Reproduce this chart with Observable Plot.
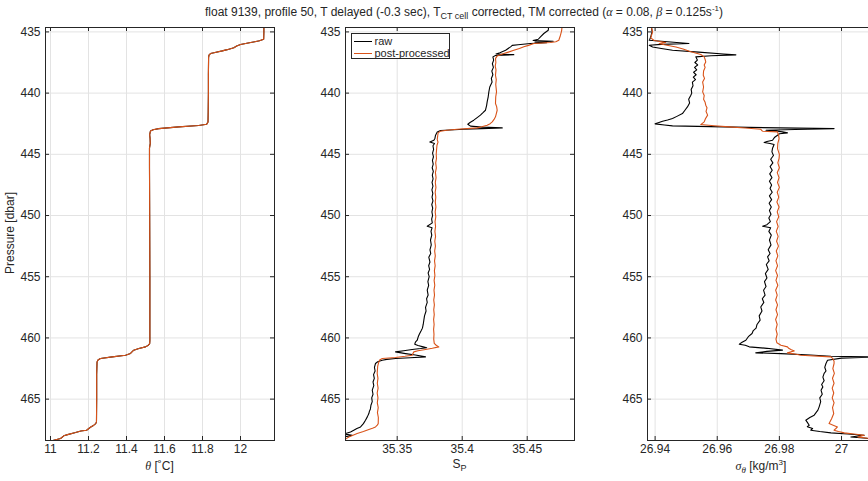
<!DOCTYPE html>
<html>
<head>
<meta charset="utf-8">
<script src="https://cdn.jsdelivr.net/npm/d3@7"></script>
<script src="https://cdn.jsdelivr.net/npm/@observablehq/plot@0.6"></script>
<style>
  html, body { margin: 0; padding: 0; background: #fff; overflow: hidden; }
  #fig { position: relative; width: 868px; height: 481px; overflow: hidden; background: #fff;
         font-family: "Liberation Sans", Arial, Helvetica, sans-serif; color: #262626; }
  .abs { position: absolute; white-space: nowrap; font-size: 12px; line-height: 14px; }
  .sub { font-size: 9px; position: relative; top: 3px; line-height: 0; }
  .sup { font-size: 8px; position: relative; top: -5px; line-height: 0; }
  .gr { font-family: "Liberation Serif", "DejaVu Serif", serif; font-style: italic; }
  #fig svg { position: absolute; max-width: none; }
  .legend { position: absolute; left: 350.5px; top: 33px; width: 99px; height: 26px; border: 1px solid #262626;
            background: #fff; box-sizing: border-box; font-size: 11px; }
  .legend .row { position: absolute; left: 0; width: 97px; height: 12px; white-space: nowrap; }
  .legend .sw { position: absolute; left: 2px; top: 6px; width: 18px; height: 1.3px; }
  .legend .tx { position: absolute; left: 23px; top: -1px; line-height: 14px; white-space: nowrap; }
</style>
</head>
<body>
<div id="fig"></div>
<script>
// ---------------- data (pressure [dbar], value) ----------------
const yTicks = [435, 440, 445, 450, 455, 460, 465];
const thetaTicks = [11, 11.2, 11.4, 11.6, 11.8, 12];
const salTicks = [35.35, 35.4, 35.45];
const sigTicks = [26.94, 26.96, 26.98, 27];

const thetaProfile = [
  [434.5, 12.123], [435.0, 12.123], [435.6, 12.122], [435.72, 12.10], [435.8, 12.075], [435.9, 12.04],
  [436.03, 12.0], [436.15, 11.98], [436.3, 11.965], [436.45, 11.93], [436.55, 11.904], [436.7, 11.86],
  [436.77, 11.842], [436.9, 11.834], [437.1, 11.832], [438.5, 11.831], [440.0, 11.831], [441.5, 11.830],
  [442.35, 11.829], [442.55, 11.822], [442.65, 11.78], [442.76, 11.675], [442.9, 11.57], [443.0, 11.54],
  [443.1, 11.526], [443.4, 11.522], [443.7, 11.524], [444.1, 11.525], [444.5, 11.521], [446, 11.521],
  [450, 11.522], [455, 11.523], [460.2, 11.523], [460.46, 11.522], [460.6, 11.515], [460.73, 11.50],
  [460.87, 11.465], [461.0, 11.438], [461.27, 11.421], [461.41, 11.395], [461.55, 11.325], [461.68, 11.263],
  [461.8, 11.25], [461.96, 11.245], [463, 11.243], [465, 11.243], [466.86, 11.242], [467.0, 11.238],
  [467.13, 11.228], [467.3, 11.21], [467.54, 11.19], [467.6, 11.16], [467.73, 11.132], [467.9, 11.09],
  [468.0, 11.07], [468.22, 11.053], [468.36, 11.017], [468.5, 11.0]
];

const salinityRaw = [
  [434.45, 35.4666], [434.86, 35.4662], [435.13, 35.4628], [435.4, 35.4602], [435.6, 35.4585], [435.7, 35.4545],
  [435.76, 35.4700], [435.82, 35.4560], [435.88, 35.4650], [435.95, 35.4525], [436.05, 35.4430], [436.1, 35.4385],
  [436.22, 35.4372], [436.5, 35.4334], [436.7, 35.4290], [436.8, 35.4260], [436.86, 35.4397], [436.93, 35.4256],
  [437.04, 35.4236], [437.3, 35.4242], [437.6, 35.4232], [437.9, 35.4240], [438.2, 35.4228], [438.5, 35.4236],
  [438.8, 35.4224], [439.1, 35.4230], [439.5, 35.4212], [439.9, 35.4205], [440.3, 35.4200], [440.72, 35.4192],
  [441.0, 35.4188], [441.4, 35.4179], [441.6, 35.4160], [441.8, 35.4140], [442.0, 35.4115], [442.21, 35.4089],
  [442.4, 35.4060], [442.54, 35.4043], [442.7, 35.4064], [442.78, 35.4150], [442.84, 35.4308], [442.9, 35.4150],
  [442.95, 35.4012], [443.06, 35.3833], [443.17, 35.3808], [443.44, 35.3795], [443.7, 35.3790], [443.85, 35.3782],
  [443.99, 35.3751], [444.12, 35.3787], [444.3, 35.3775], [444.6, 35.3780], [444.9, 35.3772], [445.2, 35.3779],
  [445.5, 35.3771], [445.8, 35.3777], [446.1, 35.3769], [446.4, 35.3778], [446.7, 35.3770], [447.0, 35.3776],
  [447.3, 35.3768], [447.6, 35.3775], [447.9, 35.3767], [448.2, 35.3774], [448.5, 35.3768], [448.8, 35.3775],
  [449.1, 35.3766], [449.4, 35.3773], [449.7, 35.3767], [450.0, 35.3772], [450.3, 35.3765], [450.6, 35.3770],
  [450.87, 35.3731], [451.0, 35.3768], [451.3, 35.3760], [451.6, 35.3766], [452.0, 35.3756], [452.4, 35.3762],
  [452.8, 35.3752], [453.1, 35.3758], [453.4, 35.3743], [453.8, 35.3752], [454.1, 35.3742], [454.4, 35.3749],
  [454.7, 35.3738], [455.0, 35.3746], [455.4, 35.3736], [455.7, 35.3742], [456.1, 35.3731], [456.5, 35.3738],
  [456.8, 35.3726], [457.1, 35.3731], [457.5, 35.3718], [457.8, 35.3722], [458.2, 35.3710], [458.55, 35.3705],
  [458.9, 35.3700], [459.2, 35.3694], [459.4, 35.3685], [459.7, 35.3670], [459.9, 35.3662], [460.19, 35.3654],
  [460.35, 35.3640], [460.51, 35.3635], [460.62, 35.3660], [460.73, 35.3700], [460.8, 35.3727], [460.87, 35.3680],
  [460.95, 35.3615], [461.05, 35.3550], [461.14, 35.3487], [461.2, 35.3520], [461.28, 35.3564], [461.4, 35.3640],
  [461.55, 35.3718], [461.62, 35.3600], [461.68, 35.3487], [461.75, 35.3420], [461.82, 35.3385], [461.95, 35.3350],
  [462.09, 35.3333], [462.4, 35.3325], [462.7, 35.3330], [463.0, 35.3318], [463.3, 35.3324], [463.6, 35.3314],
  [463.9, 35.3320], [464.27, 35.3308], [464.6, 35.3314], [464.9, 35.3304], [465.2, 35.3308], [465.5, 35.3298],
  [465.8, 35.3294], [466.0, 35.3286], [466.18, 35.3282], [466.45, 35.3270], [466.72, 35.3256], [467.0, 35.3240],
  [467.27, 35.3218], [467.4, 35.3190], [467.54, 35.3166], [467.68, 35.3141], [467.78, 35.3110], [467.85, 35.3090],
  [467.95, 35.3154], [468.02, 35.3125], [468.1, 35.3080], [468.3, 35.3060]
];

const salinityPost = [
  [434.45, 35.4769], [434.9, 35.4765], [435.27, 35.4756], [435.68, 35.4743], [435.8, 35.4720], [435.87, 35.4679],
  [435.95, 35.4551], [436.1, 35.4510], [436.22, 35.4474], [436.35, 35.4440], [436.5, 35.4397], [436.65, 35.4355],
  [436.77, 35.4320], [436.96, 35.4269], [437.18, 35.4256], [437.5, 35.4259], [437.8, 35.4254], [438.1, 35.4260],
  [438.54, 35.4256], [438.9, 35.4262], [439.3, 35.4258], [439.9, 35.4264], [440.3, 35.4258], [440.85, 35.4256],
  [441.1, 35.4265], [441.4, 35.4269], [441.7, 35.4262], [441.94, 35.4256], [442.15, 35.4245], [442.35, 35.4231],
  [442.5, 35.4215], [442.62, 35.4192], [442.75, 35.4150], [442.84, 35.4115], [442.95, 35.3962], [443.03, 35.3880],
  [443.11, 35.3833], [443.25, 35.3815], [443.44, 35.3812], [443.8, 35.3808], [444.0, 35.3814], [444.26, 35.3806],
  [444.6, 35.3803], [445.0, 35.3800], [445.34, 35.3802], [445.7, 35.3796], [446.1, 35.3801], [446.5, 35.3794],
  [446.9, 35.3799], [447.3, 35.3793], [447.7, 35.3798], [448.1, 35.3792], [448.5, 35.3797], [448.9, 35.3793],
  [449.3, 35.3798], [449.7, 35.3792], [450.1, 35.3797], [450.5, 35.3791], [450.9, 35.3795], [451.3, 35.3790],
  [451.7, 35.3795], [452.1, 35.3789], [452.5, 35.3794], [452.9, 35.3788], [453.3, 35.3793], [453.7, 35.3787],
  [454.1, 35.3792], [454.5, 35.3786], [454.9, 35.3790], [455.3, 35.3784], [455.7, 35.3789], [456.1, 35.3783],
  [456.5, 35.3787], [456.9, 35.3781], [457.3, 35.3786], [457.7, 35.3781], [458.1, 35.3785], [458.5, 35.3780],
  [458.9, 35.3784], [459.3, 35.3780], [459.7, 35.3783], [460.1, 35.3781], [460.45, 35.3785], [460.6, 35.3800],
  [460.73, 35.3820], [460.85, 35.3770], [460.95, 35.3718], [461.05, 35.3660], [461.14, 35.3628], [461.3, 35.3620],
  [461.41, 35.3615], [461.5, 35.3560], [461.6, 35.3487], [461.68, 35.3385], [461.8, 35.3365], [461.96, 35.3359],
  [462.3, 35.3350], [462.9, 35.3346], [463.3, 35.3352], [463.7, 35.3347], [464.1, 35.3353], [464.5, 35.3346],
  [464.9, 35.3352], [465.3, 35.3347], [465.7, 35.3354], [466.1, 35.3348], [466.5, 35.3355], [467.0, 35.3354],
  [467.15, 35.3345], [467.27, 35.3333], [467.38, 35.3310], [467.48, 35.3282], [467.65, 35.3240], [467.81, 35.3192],
  [467.95, 35.3160], [468.09, 35.3128], [468.25, 35.3105], [468.4, 35.3090]
];

const sigmaRaw = [
  [434.45, 26.9388], [435.0, 26.9390], [435.4, 26.9386], [435.6, 26.9383], [435.68, 26.9381], [435.8, 26.9440],
  [435.95, 26.9509], [436.02, 26.9420], [436.09, 26.9381], [436.23, 26.9392], [436.35, 26.9420], [436.5, 26.9456],
  [436.65, 26.9540], [436.8, 26.9620], [436.88, 26.9660], [436.95, 26.9580], [437.04, 26.9531], [437.3, 26.9536],
  [437.5, 26.9528], [437.7, 26.9537], [437.9, 26.9527], [438.1, 26.9534], [438.3, 26.9524], [438.5, 26.9532],
  [438.7, 26.9523], [438.9, 26.9530], [439.1, 26.9520], [439.4, 26.9522], [439.7, 26.9516], [440.0, 26.9518],
  [440.17, 26.9515], [440.5, 26.9508], [440.8, 26.9511], [441.13, 26.9504], [441.4, 26.9496], [441.67, 26.9488],
  [441.9, 26.9470], [442.08, 26.9456], [442.2, 26.9440], [442.3, 26.9424], [442.42, 26.9410], [442.51, 26.9400],
  [442.6, 26.9430], [442.68, 26.9456], [442.8, 26.9700], [442.9, 26.9976], [442.97, 26.9850], [443.03, 26.9757],
  [443.1, 26.9790], [443.17, 26.9810], [443.25, 26.9826], [443.32, 26.9800], [443.44, 26.9794], [443.6, 26.9785],
  [443.85, 26.9778], [443.95, 26.9760], [444.04, 26.9751], [444.12, 26.9770], [444.2, 26.9783], [444.5, 26.9778],
  [444.8, 26.9776], [445.1, 26.9781], [445.4, 26.9772], [445.7, 26.9779], [446.0, 26.9770], [446.3, 26.9777],
  [446.6, 26.9769], [446.9, 26.9776], [447.2, 26.9768], [447.5, 26.9775], [447.8, 26.9770], [448.1, 26.9777],
  [448.4, 26.9768], [448.7, 26.9775], [449.0, 26.9767], [449.3, 26.9774], [449.6, 26.9768], [449.9, 26.9773],
  [450.2, 26.9766], [450.5, 26.9771], [450.75, 26.9760], [450.87, 26.9746], [451.0, 26.9772], [451.3, 26.9766],
  [451.6, 26.9774], [452.0, 26.9768], [452.4, 26.9773], [452.8, 26.9764], [453.1, 26.9770], [453.38, 26.9762],
  [453.7, 26.9767], [454.0, 26.9758], [454.4, 26.9764], [454.74, 26.9755], [455.1, 26.9760], [455.4, 26.9752],
  [455.8, 26.9757], [456.1, 26.9749], [456.5, 26.9754], [456.8, 26.9745], [457.1, 26.9750], [457.47, 26.9740],
  [457.8, 26.9744], [458.2, 26.9735], [458.55, 26.9738], [458.9, 26.9728], [459.2, 26.9725], [459.4, 26.9716],
  [459.64, 26.9712], [459.9, 26.9700], [460.19, 26.9692], [460.35, 26.9680], [460.51, 26.9671], [460.6, 26.9690],
  [460.73, 26.9703], [460.85, 26.9760], [461.0, 26.9810], [461.1, 26.9760], [461.22, 26.9724], [461.28, 26.9805],
  [461.4, 26.9900], [461.5, 26.9966], [461.55, 27.0100], [461.65, 27.0000], [461.82, 26.9955], [462.09, 26.9950],
  [462.4, 26.9946], [462.7, 26.9950], [462.9, 26.9944], [463.2, 26.9940], [463.5, 26.9944], [463.8, 26.9936],
  [464.0, 26.9940], [464.27, 26.9934], [464.6, 26.9938], [464.9, 26.9930], [465.2, 26.9933], [465.63, 26.9928],
  [465.9, 26.9924], [466.1, 26.9918], [466.31, 26.9912], [466.5, 26.9898], [466.72, 26.9885], [466.9, 26.9890],
  [467.13, 26.9896], [467.25, 26.9890], [467.4, 26.9907], [467.54, 26.9901], [467.65, 26.9930], [467.76, 26.9966],
  [467.85, 27.0020], [467.95, 27.0073], [468.09, 27.0030], [468.2, 27.0080], [468.35, 27.0120]
];

const sigmaPost = [
  [434.45, 26.9386], [435.0, 26.9392], [435.49, 26.9386], [435.7, 26.9397], [435.87, 26.9434], [435.95, 26.9413],
  [436.05, 26.9430], [436.23, 26.9467], [436.4, 26.9490], [436.58, 26.9510], [436.72, 26.9530], [436.85, 26.9547],
  [437.04, 26.9558], [437.25, 26.9561], [437.45, 26.9563], [437.7, 26.9558], [437.9, 26.9561], [438.2, 26.9556],
  [438.54, 26.9555], [438.8, 26.9559], [439.1, 26.9553], [439.5, 26.9556], [439.9, 26.9553], [440.2, 26.9558],
  [440.5, 26.9556], [440.75, 26.9561], [440.99, 26.9563], [441.2, 26.9567], [441.5, 26.9564], [441.8, 26.9569],
  [442.1, 26.9562], [442.35, 26.9558], [442.57, 26.9547], [442.67, 26.9590], [442.76, 26.9638], [442.85, 26.9690],
  [442.95, 26.9740], [443.05, 26.9743], [443.11, 26.9746], [443.17, 26.9794], [443.4, 26.9797], [443.71, 26.9799],
  [444.1, 26.9795], [444.53, 26.9794], [445.0, 26.9800], [445.34, 26.9799], [445.7, 26.9795], [446.1, 26.9800],
  [446.5, 26.9793], [446.9, 26.9799], [447.3, 26.9794], [447.7, 26.9800], [448.1, 26.9793], [448.5, 26.9798],
  [448.9, 26.9792], [449.3, 26.9799], [449.7, 26.9793], [450.1, 26.9798], [450.5, 26.9791], [450.9, 26.9796],
  [451.3, 26.9790], [451.7, 26.9796], [452.1, 26.9791], [452.5, 26.9797], [452.9, 26.9790], [453.3, 26.9795],
  [453.7, 26.9789], [454.1, 26.9794], [454.5, 26.9788], [454.9, 26.9794], [455.3, 26.9789], [455.7, 26.9795],
  [456.1, 26.9788], [456.5, 26.9793], [456.9, 26.9788], [457.3, 26.9794], [457.7, 26.9789], [458.1, 26.9794],
  [458.5, 26.9788], [458.9, 26.9793], [459.3, 26.9789], [459.7, 26.9793], [460.1, 26.9789], [460.4, 26.9792],
  [460.6, 26.9805], [460.73, 26.9826], [460.85, 26.9830], [460.95, 26.9837], [461.06, 26.9848], [461.15, 26.9835],
  [461.22, 26.9826], [461.32, 26.9850], [461.41, 26.9869], [461.55, 26.9966], [461.7, 26.9972], [461.9, 26.9976],
  [462.09, 26.9976], [462.5, 26.9972], [462.9, 26.9977], [463.3, 26.9971], [463.7, 26.9976], [464.1, 26.9970],
  [464.5, 26.9975], [464.9, 26.9970], [465.3, 26.9976], [465.7, 26.9971], [466.18, 26.9975], [466.6, 26.9968],
  [467.0, 26.9960], [467.15, 26.9975], [467.27, 26.9987], [467.4, 26.9982], [467.54, 26.9976], [467.65, 26.9990],
  [467.76, 27.0009], [467.85, 27.0040], [467.95, 27.0073], [468.09, 27.0052], [468.2, 27.0085], [468.35, 27.0110]
];

// ---------------- drawing ----------------
const RAW = "#000000", POST = "#D95319", AX = "#262626";
const W = 229, H = 413, ML = 40, MR = 5, MT = 5, MB = 30;
const fig = document.getElementById("fig");
const toObj = arr => arr.map(([p, v]) => ({p, v}));

function panel({frameLeft, domain, ticks, raw, post}) {
  const svg = Plot.plot({
    width: ML + W + MR, height: MT + H + MB,
    marginLeft: ML, marginRight: MR, marginTop: MT, marginBottom: MB,
    style: {fontFamily: '"Liberation Sans", Arial, Helvetica, sans-serif', fontSize: "12px",
            color: AX, background: "transparent", overflow: "visible"},
    x: {domain, ticks},
    y: {domain: [434.64, 468.38], reverse: true},
    marks: [
      Plot.gridX(ticks, {stroke: "#e3e3e3", strokeOpacity: 1}),
      Plot.gridY(yTicks, {stroke: "#e3e3e3", strokeOpacity: 1}),
      Plot.line(toObj(raw), {x: "v", y: "p", stroke: RAW, strokeWidth: 1.1, clip: true}),
      Plot.line(toObj(post), {x: "v", y: "p", stroke: POST, strokeWidth: 1.1, clip: true}),
      Plot.tickY(yTicks, {y: d => d, insetRight: W - 4, stroke: AX}),
      Plot.tickY(yTicks, {y: d => d, insetLeft: W - 4, stroke: AX}),
      Plot.tickX(ticks, {x: d => d, insetTop: H - 4, stroke: AX}),
      Plot.tickX(ticks, {x: d => d, insetBottom: H - 4, stroke: AX}),
      Plot.frame({stroke: AX, strokeWidth: 1}),
      Plot.axisX(ticks, {tickSize: 0, tickPadding: 4, label: null, tickFormat: d => String(d), fill: AX}),
      Plot.axisY(yTicks, {tickSize: 0, tickPadding: 5, label: null, tickFormat: d => String(d), fill: AX})
    ]
  });
  svg.style.left = (frameLeft - ML) + "px";
  svg.style.top = (27.3 - MT) + "px";
  fig.appendChild(svg);
}

panel({frameLeft: 45, domain: [10.9737, 12.1789], ticks: thetaTicks, raw: thetaProfile, post: thetaProfile});
panel({frameLeft: 345, domain: [35.31023, 35.48638], ticks: salTicks, raw: salinityRaw, post: salinityPost});
panel({frameLeft: 646.7, domain: [26.93755, 27.01126], ticks: sigTicks, raw: sigmaRaw, post: sigmaPost});

// ---------------- texts ----------------
function addText(html, css) {
  const d = document.createElement("div");
  d.className = "abs";
  d.innerHTML = html;
  Object.assign(d.style, css);
  fig.appendChild(d);
  return d;
}
addText('float 9139, profile 50, T delayed (-0.3 sec), T<span class="sub">CT cell</span> corrected, TM corrected (<span class="gr">α</span> = 0.08, <span class="gr">β</span> = 0.125s<span class="sup">-1</span>)',
  {right: "145px", top: "5px"});
addText('Pressure [dbar]', {left: "10px", top: "233px", transform: "translate(-50%,-50%) rotate(-90deg)"});
addText('<span class="gr">θ</span> [˚C]', {left: "159.5px", top: "466px", transform: "translate(-50%,-50%)"});
addText('S<span class="sub">P</span>', {left: "459.5px", top: "464px", transform: "translate(-50%,-50%)"});
addText('<span class="gr">σ</span><span class="sub gr">θ</span> [kg/m<span class="sup">3</span>]', {left: "761px", top: "466px", transform: "translate(-50%,-50%)"});

const legend = document.createElement("div");
legend.className = "legend";
legend.innerHTML =
  `<div class="row" style="top:1px"><div class="sw" style="background:${RAW}"></div><div class="tx">raw</div></div>` +
  `<div class="row" style="top:12.5px"><div class="sw" style="background:${POST}"></div><div class="tx">post-processed</div></div>`;
fig.appendChild(legend);
</script>
</body>
</html>
